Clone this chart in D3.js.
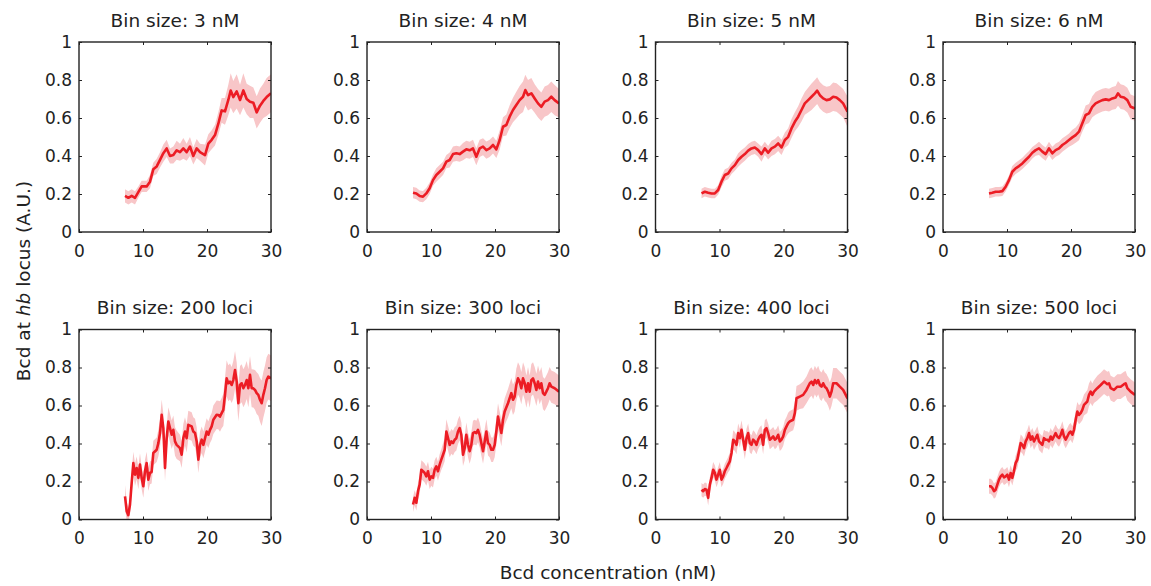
<!DOCTYPE html>
<html><head><meta charset="utf-8">
<script src="https://cdn.jsdelivr.net/npm/d3@7"></script>
<style>body{margin:0;background:#fff}text{font-family:"DejaVu Sans",Arial,Helvetica,sans-serif;fill:#222}</style>
</head><body>
<script>
const panelTitles = ["Bin size: 3 nM","Bin size: 4 nM","Bin size: 5 nM","Bin size: 6 nM","Bin size: 200 loci","Bin size: 300 loci","Bin size: 400 loci","Bin size: 500 loci"];
const xTicks = [0,10,20,30];
const yTicks = [0,0.2,0.4,0.6,0.8,1];
const yTickLabels = ["0","0.2","0.4","0.6","0.8","1"];
// rows: [Bcd concentration (nM), mean Bcd at hb locus, half-width of shaded band]
const bin3nM = [[7.19,.19,.035],[7.71,.18,.035],[8.23,.19,.035],[8.75,.18,.035],[9.27,.21,.03],[9.79,.24,.03],[10.57,.24,.03],[11.09,.265,.035],[11.61,.33,.035],[12.14,.345,.04],[12.66,.38,.04],[13.18,.415,.045],[13.7,.44,.045],[14.22,.40,.04],[14.74,.405,.045],[15.26,.43,.05],[15.78,.42,.045],[16.3,.44,.055],[16.82,.42,.045],[17.34,.45,.05],[17.86,.40,.045],[18.39,.44,.05],[18.91,.42,.045],[19.69,.405,.055],[20.21,.465,.05],[20.73,.485,.05],[21.25,.51,.055],[21.77,.57,.06],[22.29,.64,.065],[22.81,.635,.07],[23.33,.695,.08],[23.7,.745,.09],[24.11,.71,.085],[24.64,.74,.09],[25.16,.695,.08],[25.68,.745,.09],[26.2,.70,.08],[26.72,.685,.085],[27.24,.68,.08],[27.76,.63,.085],[28.28,.665,.09],[28.8,.69,.09],[29.32,.71,.1],[30,.73,.1]];
const bin4nM = [[7.19,.207,.03],[7.71,.203,.03],[8.23,.189,.03],[8.75,.186,.03],[9.27,.203,.03],[9.79,.23,.03],[10.31,.273,.03],[10.83,.30,.035],[11.35,.317,.035],[11.88,.335,.035],[12.4,.37,.035],[12.92,.379,.04],[13.44,.41,.04],[13.96,.414,.04],[14.48,.41,.04],[15.0,.423,.045],[15.52,.435,.045],[16.04,.43,.045],[16.56,.44,.045],[17.08,.396,.045],[17.6,.44,.045],[18.13,.449,.045],[18.65,.431,.045],[19.17,.44,.045],[19.69,.458,.045],[20.21,.435,.045],[20.73,.484,.05],[21.25,.554,.05],[21.77,.563,.055],[22.29,.607,.06],[22.81,.642,.065],[23.33,.668,.07],[23.85,.694,.075],[24.38,.712,.08],[24.74,.747,.08],[25.16,.72,.08],[25.68,.73,.08],[26.2,.703,.075],[26.72,.677,.075],[27.24,.659,.075],[27.76,.686,.08],[28.28,.694,.08],[28.8,.712,.08],[29.32,.694,.08],[30,.677,.075]];
const bin5nM = [[7.19,.203,.025],[7.71,.212,.025],[8.23,.207,.025],[8.75,.203,.025],[9.27,.203,.025],[9.79,.221,.025],[10.31,.265,.03],[10.83,.30,.03],[11.35,.308,.03],[11.88,.335,.03],[12.4,.352,.03],[12.92,.379,.035],[13.44,.396,.035],[13.96,.41,.035],[14.48,.428,.035],[15.0,.44,.035],[15.52,.445,.035],[16.04,.431,.035],[16.56,.41,.04],[17.08,.44,.035],[17.6,.417,.035],[18.13,.44,.04],[18.65,.449,.04],[19.17,.466,.04],[19.69,.445,.04],[20.21,.484,.04],[20.73,.501,.045],[21.25,.545,.05],[21.77,.58,.05],[22.29,.607,.055],[22.81,.642,.06],[23.33,.677,.06],[23.85,.694,.065],[24.38,.712,.07],[24.9,.73,.07],[25.26,.744,.07],[25.68,.72,.07],[26.2,.703,.07],[26.72,.694,.07],[27.24,.698,.07],[27.76,.712,.075],[28.28,.708,.075],[28.8,.694,.075],[29.32,.677,.075],[30,.633,.08]];
const bin6nM = [[7.19,.203,.025],[7.71,.207,.025],[8.23,.212,.025],[8.75,.212,.025],[9.27,.215,.025],[9.79,.238,.025],[10.31,.273,.025],[10.83,.317,.03],[11.35,.335,.03],[11.88,.347,.03],[12.4,.361,.03],[12.92,.379,.03],[13.44,.396,.03],[13.96,.417,.03],[14.48,.431,.03],[15.0,.44,.035],[15.52,.423,.035],[16.04,.41,.035],[16.56,.44,.035],[17.08,.414,.035],[17.6,.431,.035],[18.13,.44,.035],[18.65,.458,.035],[19.17,.47,.035],[19.69,.484,.035],[20.21,.498,.04],[20.73,.51,.04],[21.25,.528,.045],[21.77,.572,.045],[22.29,.616,.05],[22.81,.624,.05],[23.33,.659,.055],[23.85,.677,.06],[24.38,.686,.06],[24.9,.694,.06],[25.42,.698,.06],[25.94,.694,.06],[26.46,.703,.06],[26.98,.708,.06],[27.34,.73,.065],[27.76,.712,.065],[28.28,.708,.065],[28.8,.694,.065],[29.32,.659,.065],[30,.65,.065]];
const bin200loci = [[7.19,.122,.06],[7.45,.044,.05],[7.71,.023,.04],[7.97,.079,.05],[8.23,.192,.06],[8.49,.297,.06],[8.75,.236,.06],[9.01,.271,.06],[9.27,.219,.06],[9.53,.289,.06],[9.79,.219,.06],[10.05,.175,.06],[10.31,.254,.06],[10.57,.297,.06],[10.83,.21,.06],[11.09,.245,.06],[11.35,.25,.06],[11.61,.35,.065],[12.14,.367,.065],[12.4,.402,.07],[12.66,.455,.075],[12.92,.551,.08],[13.18,.481,.075],[13.44,.271,.07],[13.7,.428,.07],[13.96,.516,.075],[14.22,.481,.075],[14.48,.446,.075],[14.74,.472,.075],[15.0,.411,.075],[15.26,.393,.075],[15.78,.376,.07],[16.04,.341,.07],[16.3,.428,.075],[16.56,.463,.075],[16.82,.428,.075],[17.08,.498,.075],[17.6,.49,.075],[17.86,.463,.075],[18.13,.455,.075],[18.39,.411,.075],[18.65,.315,.07],[18.91,.393,.07],[19.17,.42,.07],[19.43,.393,.07],[19.95,.463,.07],[20.21,.446,.07],[20.47,.472,.07],[20.73,.49,.07],[20.99,.525,.075],[21.51,.551,.075],[21.77,.55,.075],[22.03,.542,.08],[22.29,.56,.08],[22.55,.577,.085],[22.81,.656,.09],[23.07,.743,.095],[23.33,.717,.095],[23.59,.726,.095],[23.85,.708,.095],[24.11,.734,.1],[24.38,.787,.1],[24.64,.726,.1],[24.9,.612,.095],[25.16,.708,.1],[25.42,.717,.1],[25.68,.691,.1],[25.94,.708,.1],[26.2,.734,.1],[26.46,.691,.1],[26.72,.761,.1],[26.98,.691,.1],[27.24,.69,.1],[27.5,.682,.105],[27.76,.665,.11],[28.02,.656,.11],[28.28,.63,.115],[28.54,.612,.12],[28.8,.656,.12],[29.06,.691,.12],[29.32,.734,.12],[29.58,.752,.12],[30,.743,.12]];
const bin300loci = [[7.19,.079,.04],[7.45,.114,.04],[7.71,.088,.04],[7.97,.149,.045],[8.23,.184,.05],[8.49,.262,.05],[8.75,.254,.05],[9.01,.245,.05],[9.27,.227,.05],[9.53,.254,.05],[9.79,.21,.05],[10.05,.227,.05],[10.31,.219,.05],[10.57,.262,.05],[10.83,.28,.05],[11.09,.254,.05],[11.35,.289,.055],[11.61,.315,.055],[11.88,.341,.06],[12.14,.367,.06],[12.4,.463,.065],[12.66,.428,.065],[12.92,.393,.065],[13.18,.411,.065],[13.44,.402,.065],[13.7,.42,.065],[13.96,.428,.065],[14.22,.463,.065],[14.48,.481,.065],[14.74,.446,.065],[15.0,.341,.06],[15.26,.376,.065],[15.52,.446,.065],[15.78,.393,.065],[16.04,.359,.065],[16.3,.393,.065],[16.56,.455,.065],[16.82,.46,.065],[17.08,.455,.065],[17.34,.472,.065],[17.6,.446,.065],[17.86,.402,.065],[18.13,.359,.065],[18.39,.411,.065],[18.65,.463,.065],[18.91,.402,.065],[19.17,.393,.065],[19.43,.367,.065],[19.69,.367,.065],[19.95,.393,.065],[20.21,.463,.07],[20.47,.542,.07],[20.73,.498,.07],[20.99,.455,.07],[21.25,.525,.07],[21.51,.568,.07],[22.03,.612,.075],[22.55,.665,.08],[22.81,.63,.08],[23.07,.647,.08],[23.33,.708,.085],[23.59,.743,.085],[23.85,.726,.085],[24.11,.691,.085],[24.38,.743,.085],[24.64,.717,.085],[24.9,.673,.085],[25.16,.717,.085],[25.42,.673,.085],[25.68,.734,.085],[25.94,.743,.085],[26.2,.717,.085],[26.46,.682,.085],[26.72,.726,.085],[26.98,.691,.085],[27.24,.717,.085],[27.5,.665,.085],[27.76,.656,.085],[28.02,.673,.085],[28.28,.691,.085],[28.54,.717,.085],[28.8,.699,.085],[29.32,.691,.085],[30,.673,.085]];
const bin400loci = [[7.19,.157,.035],[7.45,.149,.035],[7.71,.16,.035],[7.97,.157,.035],[8.23,.114,.04],[8.49,.184,.04],[8.75,.219,.04],[9.01,.262,.04],[9.27,.245,.04],[9.53,.21,.04],[9.79,.236,.04],[10.05,.262,.04],[10.31,.21,.04],[10.57,.227,.04],[10.83,.254,.04],[11.09,.271,.04],[11.35,.289,.04],[11.61,.306,.045],[11.88,.35,.045],[12.14,.42,.05],[12.4,.411,.05],[12.66,.393,.05],[12.92,.455,.05],[13.18,.428,.05],[13.44,.472,.05],[13.7,.42,.05],[13.96,.367,.05],[14.22,.428,.05],[14.48,.455,.05],[14.74,.402,.05],[15.0,.393,.05],[15.26,.42,.05],[15.52,.411,.05],[15.78,.393,.05],[16.04,.42,.05],[16.3,.437,.05],[16.56,.446,.05],[16.82,.393,.05],[17.08,.472,.05],[17.34,.481,.05],[17.6,.455,.05],[17.86,.42,.05],[18.13,.428,.05],[18.39,.437,.05],[18.65,.42,.05],[18.91,.428,.05],[19.17,.446,.05],[19.43,.411,.05],[19.69,.42,.05],[19.95,.437,.05],[20.21,.472,.05],[20.47,.49,.05],[20.73,.507,.055],[20.99,.516,.055],[21.51,.525,.055],[21.77,.56,.06],[22.03,.638,.065],[22.55,.647,.065],[23.07,.656,.07],[23.59,.682,.07],[24.11,.717,.075],[24.38,.726,.075],[24.64,.708,.075],[24.9,.734,.075],[25.16,.717,.075],[25.42,.734,.075],[25.68,.708,.075],[25.94,.699,.075],[26.2,.717,.075],[26.46,.699,.075],[26.72,.691,.075],[26.98,.673,.075],[27.24,.647,.075],[27.5,.673,.075],[27.76,.717,.08],[28.28,.717,.08],[28.8,.699,.08],[29.32,.682,.08],[30,.638,.08]];
const bin500loci = [[7.19,.175,.04],[7.45,.175,.04],[7.71,.166,.04],[7.97,.149,.04],[8.23,.157,.04],[8.49,.184,.04],[8.75,.21,.04],[9.01,.227,.04],[9.27,.236,.04],[9.53,.222,.04],[9.79,.227,.04],[10.05,.236,.04],[10.31,.21,.04],[10.57,.245,.04],[10.83,.219,.04],[11.09,.254,.04],[11.35,.297,.04],[11.61,.315,.045],[11.88,.359,.045],[12.14,.402,.045],[12.4,.393,.045],[12.66,.376,.045],[12.92,.411,.045],[13.18,.428,.045],[13.44,.455,.045],[13.7,.42,.045],[13.96,.437,.045],[14.22,.411,.045],[14.48,.428,.045],[14.74,.446,.045],[15.0,.411,.045],[15.26,.402,.045],[15.52,.393,.045],[15.78,.428,.045],[16.04,.42,.045],[16.3,.42,.045],[16.56,.411,.045],[16.82,.437,.045],[17.08,.42,.045],[17.34,.437,.045],[17.6,.455,.045],[17.86,.437,.045],[18.13,.428,.045],[18.39,.446,.045],[18.65,.472,.045],[18.91,.437,.045],[19.17,.42,.045],[19.43,.437,.045],[19.69,.455,.045],[19.95,.463,.045],[20.21,.446,.045],[20.47,.472,.045],[20.73,.525,.05],[20.99,.568,.05],[21.25,.551,.05],[21.51,.56,.05],[21.77,.577,.055],[22.03,.603,.055],[22.55,.621,.06],[22.81,.656,.06],[23.07,.673,.06],[23.33,.656,.06],[23.59,.673,.06],[24.11,.691,.065],[24.64,.708,.065],[25.16,.726,.065],[25.68,.712,.065],[25.94,.717,.065],[26.2,.691,.065],[26.72,.682,.065],[27.24,.699,.065],[27.76,.699,.065],[28.28,.712,.065],[28.54,.717,.065],[28.8,.691,.065],[29.32,.673,.065],[30,.656,.065]];
const panelData = [bin3nM,bin4nM,bin5nM,bin6nM,bin200loci,bin300loci,bin400loci,bin500loci];

const W = 1151, H = 586;
const colLeft = [79, 367, 655.5, 943];
const rowTop = [42, 329.5];
const pw = 192, ph = 190;

const svg = d3.select("body").append("svg").attr("width", W).attr("height", H);
const x = d3.scaleLinear().domain([0, 30]).range([0, pw]);
const y = d3.scaleLinear().domain([0, 1]).range([ph, 0]);

const area = d3.area().x(d => x(d[0])).y0(d => y(d[1] - d[2])).y1(d => y(d[1] + d[2]));
const line = d3.line().x(d => x(d[0])).y(d => y(d[1]));

svg.append("defs").append("clipPath").attr("id", "clip")
  .append("rect").attr("width", pw).attr("height", ph);

const FONT = '"DejaVu Sans",Arial,sans-serif';

panelData.forEach((data, i) => {
  const col = i % 4, row = Math.floor(i / 4);
  const g = svg.append("g").attr("transform", `translate(${colLeft[col]},${rowTop[row]})`);
  const plot = g.append("g").attr("clip-path", "url(#clip)");
  plot.append("path").datum(data).attr("d", area).attr("fill", "#f8c6c8").attr("stroke", "none");
  plot.append("path").datum(data).attr("d", line).attr("fill", "none")
    .attr("stroke", "#ec1c24").attr("stroke-width", 2.6).attr("stroke-linejoin", "round");

  const xb = g.append("g").attr("transform", `translate(0,${ph})`)
    .call(d3.axisBottom(x).tickValues(xTicks).tickSize(-3).tickPadding(12.5).tickFormat(d3.format("d")));
  const xt = g.append("g").call(d3.axisTop(x).tickValues(xTicks).tickSize(-3).tickFormat(""));
  const yl = g.append("g")
    .call(d3.axisLeft(y).tickValues(yTicks).tickSize(-3).tickPadding(7).tickFormat((d, k) => yTickLabels[k]));
  const yr = g.append("g").attr("transform", `translate(${pw},0)`)
    .call(d3.axisRight(y).tickValues(yTicks).tickSize(-3).tickFormat(""));
  [xb, xt, yl, yr].forEach(a => {
    a.select(".domain").remove();
    a.selectAll("line").attr("stroke", "#222").attr("stroke-width", 1);
    a.selectAll("text").style("font-size", "17px").style("font-family", FONT).attr("fill", "#222");
  });
  g.append("rect").attr("width", pw).attr("height", ph).attr("fill", "none")
    .attr("stroke", "#222").attr("stroke-width", 1.4);

  g.append("text").attr("x", pw / 2).attr("y", -15.5).attr("text-anchor", "middle")
    .style("font-size", "18.5px").text(panelTitles[i]);
});

const yLab = svg.append("text").attr("transform", "translate(29.5,281) rotate(-90)")
  .attr("text-anchor", "middle").style("font-size", "18.5px");
yLab.append("tspan").text("Bcd at ");
yLab.append("tspan").attr("font-style", "italic").text("hb");
yLab.append("tspan").text(" locus (A.U.)");

svg.append("text").attr("x", 608).attr("y", 579).attr("text-anchor", "middle")
  .style("font-size", "18.5px").text("Bcd concentration (nM)");
</script>
</body></html>
